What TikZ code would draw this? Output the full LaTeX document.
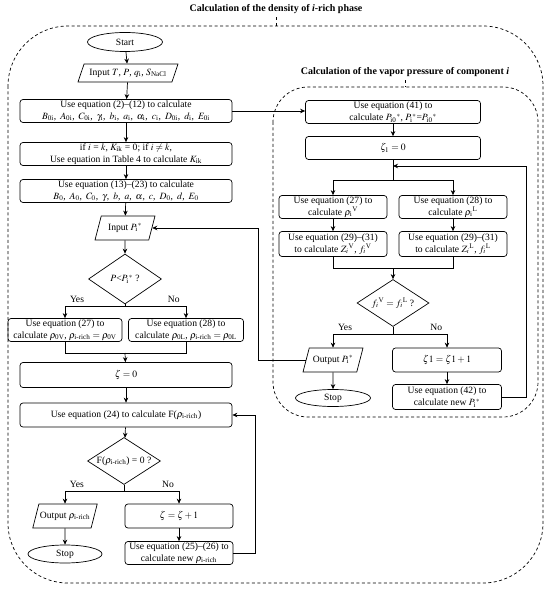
\documentclass[tikz,border=0pt]{standalone}
\usepackage{amsmath}
\usepackage{mathptmx}
\usepackage{fontspec}
\setmainfont{Liberation Serif}
\usepackage{tikz}
\usetikzlibrary{calc}
\usetikzlibrary{arrows.meta}
\usetikzlibrary{shapes.geometric}
\newcommand{\rich}{\rho_{\text{i-rich}}}
\newcommand{\Pst}{P_{\text{i}}{}^{*}}
\newcommand{\cm}{,\ \,}

\begin{document}
\begin{tikzpicture}[x=1pt,y=-1pt,line width=0.7pt,
    every node/.style={font=\fontsize{9.6}{12}\selectfont},
    proc/.style={draw, rounded corners=3pt, align=center, inner xsep=1pt, inner ysep=0pt, minimum height=23},
    io/.style={draw, trapezium, trapezium left angle=60, trapezium right angle=120,
        trapezium stretches body, inner sep=1pt, minimum height=24},
    dec/.style={draw, diamond, aspect=1.55, inner sep=0pt, minimum width=73, minimum height=50},
    term/.style={draw, ellipse, inner sep=0pt, minimum width=75, minimum height=19},
    ttl/.style={font=\fontsize{10}{12}\selectfont\bfseries},
    grp/.style={dashed, dash pattern=on 3pt off 2.5pt},
    arr/.style={-{Stealth[length=5pt,width=4.5pt]}}]
    \useasboundingbox (0,0) rectangle (550,593);

    \node[ttl] (t out) at (276,9) {Calculation of the density of \textit{i}-rich phase};
    \coordinate (g out) at (276,26);
    \draw[grp, rounded corners=60] (8,26) rectangle (543,583);
    \draw[grp] (t out.south) -- (g out);
    \node[ttl] (t in) at (405,72) {Calculation of the vapor pressure of component \textit{i}};
    \coordinate (g in) at (405,87);
    \draw[grp, rounded corners=35] (273,87) rectangle (538,417);
    \draw[grp] (t in.south) -- (g in);

    \node[term] (start) at (125,42) {Start};
    \node[io, minimum width=100, minimum height=18] (in tp) at (128,73) {Input $T$, $P$, $q_{\text{i}}$, $S_{\text{NaCl}}$};
    \node[proc, minimum width=212] (eq2) at (126,111) {Use equation (2)--(12) to calculate\\
        $B_{\text{0i}}$\cm$A_{\text{0i}}$\cm$C_{\text{0i}}$\cm$\gamma_{\text{i}}$\cm$b_{\text{i}}$\cm$a_{\text{i}}$\cm$\alpha_{\text{i}}$\cm$c_{\text{i}}$\cm$D_{\text{0i}}$\cm$d_{\text{i}}$\cm$E_{\text{0i}}$};
    \node[proc, minimum width=212] (kik) at (126,154) {if $i$ = $k$, $K_{\text{ik}}$ = 0; if $i \neq k$,\\
        Use equation in Table 4 to calculate $K_{\text{ik}}$};
    \node[proc, minimum width=212] (eq13) at (126,191) {Use equation (13)--(23) to calculate\\
        $B_0$\cm$A_0$\cm$C_0$\cm$\gamma$\cm$b$\cm$a$\cm$\alpha$\cm$c$\cm$D_0$\cm$d$\cm$E_0$};
    \node[io, minimum width=60] (in ps) at (125,228) {Input $\Pst$};
    \node[dec] (d p) at (125,279) {$P$<$\Pst$ ?};
    \coordinate (br p) at (125,306);
    \node[proc, minimum width=114] (rho v) at (65,330) {Use equation (27) to\\
        calculate $\rho_{\text{0V}}$, $\rich = \rho_{\text{0V}}$};
    \node[proc, minimum width=115] (rho l) at (186,330) {Use equation (28) to\\
        calculate $\rho_{\text{0L}}$, $\rich = \rho_{\text{0L}}$};
    \coordinate (mg rho) at (125,353);
    \node[proc, minimum width=212, minimum height=25] (z0) at (126,375) {$\zeta = 0$};
    \node[proc, minimum width=212, minimum height=24] (eq24) at (126,415) {Use equation (24) to calculate F($\rich$)};
    \node[dec, minimum height=47] (d f) at (124,461) {F($\rich$) = 0 ?};
    \coordinate (br f) at (124,491);
    \node[io, minimum width=60] (out rho) at (65,516) {Output $\rich$};
    \node[term, minimum width=74, minimum height=18] (stop a) at (65,554) {Stop};
    \node[proc, minimum width=108, minimum height=24] (z1) at (179,516) {$\zeta = \zeta + 1$};
    \node[proc, minimum width=108] (eq25) at (179,553) {Use equation (25)--(26) to\\
        calculate new $\rich$};

    \node[proc, minimum width=175] (eq41) at (393,112) {Use equation (41) to\\
        calculate $P_{\text{i0}}{}^{*}$, $\Pst$=$P_{\text{i0}}{}^{*}$};
    \node[proc, minimum width=175] (zr0) at (393,148) {$\zeta_1 = 0$};
    \coordinate (lp) at (393,166);
    \coordinate (br z) at (393,180);
    \node[proc, minimum width=108] (eq27) at (333,207) {Use equation (27) to\\
        calculate $\rho_{\text{i}}{}^{\text{V}}$};
    \node[proc, minimum width=108] (eq28) at (453,207) {Use equation (28) to\\
        calculate $\rho_{\text{i}}{}^{\text{L}}$};
    \node[proc, minimum width=108, minimum height=25] (eq29v) at (333,244) {Use equation (29)--(31)\\
        to calculate $Z_i{}^{\text{V}}$, $f_i{}^{\text{V}}$};
    \node[proc, minimum width=108, minimum height=25] (eq29l) at (453,244) {Use equation (29)--(31)\\
        to calculate $Z_i{}^{\text{L}}$, $f_i{}^{\text{L}}$};
    \coordinate (mg f) at (393,268);
    \node[dec, minimum width=72, minimum height=47] (d fug) at (393,303) {$f_i{}^{\text{V}} = f_i{}^{\text{L}}$ ?};
    \coordinate (br fug) at (393,334);
    \node[io, minimum width=60] (out ps) at (333,360) {Output $\Pst$};
    \node[term, minimum height=17] (stop b) at (333,398) {Stop};
    \node[proc, minimum width=109, minimum height=24] (zr1) at (447,360) {$\zeta1 = \zeta1 + 1$};
    \node[proc, minimum width=109, minimum height=25] (eq42) at (447,397) {Use equation (42) to\\
        calculate new $\Pst$};

    \draw[arr] (start) -- (in tp);
    \draw[arr] (in tp) -- (eq2);
    \draw[arr] (eq2) -- (kik);
    \draw[arr] (kik) -- (eq13);
    \draw[arr] (eq13) -- (in ps);
    \draw[arr] (in ps) -- (d p);
    \draw (d p.south) -- (br p);
    \draw[arr] (br p) -| node[pos=0.4, above] {Yes} (rho v.north);
    \draw[arr] (br p) -| node[pos=0.4, above] {No} (rho l.north);
    \draw (rho v.south) |- (mg rho);
    \draw (rho l.south) |- (mg rho);
    \draw[arr] (mg rho) -- (z0);
    \draw[arr] (z0) -- (eq24);
    \draw[arr] (eq24) -- (d f);
    \draw (d f.south) -- (br f);
    \draw[arr] (br f) -| node[pos=0.4, above] {Yes} (out rho.north);
    \draw[arr] (br f) -| node[pos=0.4, above] {No} (z1.north);
    \draw[arr] (out rho) -- (stop a);
    \draw[arr] (z1) -- (eq25);
    \draw[arr] (eq25.east) -- ++(22,0) |- (eq24.east);

    \draw[arr] (eq2.east) -- (eq41.west |- eq2.east);
    \draw[arr] (eq41) -- (zr0);
    \draw (zr0.south) -- (br z);
    \draw[arr] (br z) -| (eq27.north);
    \draw[arr] (br z) -| (eq28.north);
    \draw[arr] (eq27) -- (eq29v);
    \draw[arr] (eq28) -- (eq29l);
    \draw (eq29v.south) |- (mg f);
    \draw (eq29l.south) |- (mg f);
    \draw[arr] (mg f) -- (d fug);
    \draw (d fug.south) -- (br fug);
    \draw[arr] (br fug) -| node[pos=0.4, above] {Yes} (out ps.north);
    \draw[arr] (br fug) -| node[pos=0.4, above] {No} (zr1.north);
    \draw[arr] (out ps) -- (stop b);
    \draw[arr] (zr1) -- (eq42);
    \draw[arr] (eq42.east) -- ++(24,0) |- (lp);
    \draw[arr] (out ps.west) -- ++(-47,0) |- (in ps.east);
\end{tikzpicture}
\end{document}
